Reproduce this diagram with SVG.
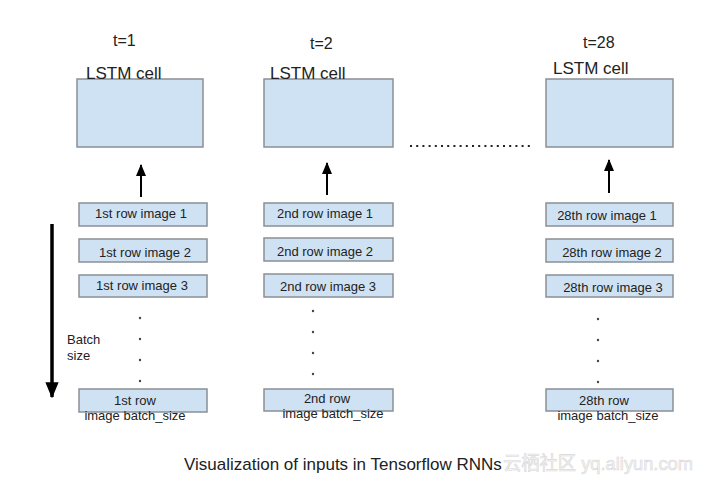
<svg xmlns="http://www.w3.org/2000/svg" width="708" height="483" viewBox="0 0 708 483">
<style>
text{font-family:"Liberation Sans",Arial,sans-serif;fill:#222}
.cell{fill:#cfe2f3;stroke:#8a8f94;stroke-width:1.5}
.in{fill:#cfe2f3;stroke:#8a8f94;stroke-width:1.5}
.t{font-size:16px}
.lbl{font-size:17px}
.bt{font-size:13px;text-anchor:middle}
.dot{fill:#444}
.conn{stroke:#000;stroke-width:2;fill:none}
</style>
<defs>
<marker id="ah" viewBox="0 0 12 10" refX="11" refY="5" markerWidth="6" markerHeight="5" orient="auto" markerUnits="strokeWidth">
<path d="M0,0 L12,5 L0,10 z" fill="#000"/>
</marker>
<marker id="ahb" viewBox="0 0 12 10" refX="11" refY="5" markerWidth="4.6" markerHeight="3.8" orient="auto" markerUnits="strokeWidth">
<path d="M0,0 L12,5 L0,10 z" fill="#000"/>
</marker>
</defs>
<rect width="708" height="483" fill="#fff"/>

<g id="cell1">
<text class="t" x="113" y="46">t=1</text>
<rect class="cell" x="77" y="79" width="126" height="68"/>
<text class="lbl" x="86" y="79">LSTM cell</text>
</g>
<g id="cell2">
<text class="t" x="310" y="49">t=2</text>
<rect class="cell" x="264" y="79" width="129" height="68"/>
<text class="lbl" x="270" y="79">LSTM cell</text>
</g>
<g id="cell28">
<text class="t" x="583" y="48">t=28</text>
<rect class="cell" x="546" y="79" width="127" height="68"/>
<text class="lbl" x="553" y="74">LSTM cell</text>
</g>

<g id="col1">
<rect class="in" x="79" y="203" width="128" height="23"/>
<text class="bt" x="141" y="218">1st row image 1</text>
<rect class="in" x="79" y="239" width="128" height="23"/>
<text class="bt" x="145" y="257">1st row image 2</text>
<rect class="in" x="79" y="275" width="128" height="22"/>
<text class="bt" x="142" y="290">1st row image 3</text>
<circle class="dot" cx="140" cy="318" r="1.2"/>
<circle class="dot" cx="140" cy="339" r="1.2"/>
<circle class="dot" cx="140" cy="360" r="1.2"/>
<circle class="dot" cx="140" cy="381" r="1.2"/>
<rect class="in" x="79" y="389" width="128" height="23"/>
<text class="bt" x="135" y="405">1st row</text>
<text class="bt" x="135" y="420">image batch_size</text>
</g>

<g id="col2">
<rect class="in" x="264" y="203" width="129" height="23"/>
<text class="bt" x="325" y="218">2nd row image 1</text>
<rect class="in" x="264" y="238" width="129" height="23"/>
<text class="bt" x="325" y="256">2nd row image 2</text>
<rect class="in" x="264" y="274" width="129" height="23"/>
<text class="bt" x="328" y="291">2nd row image 3</text>
<circle class="dot" cx="313" cy="311" r="1.2"/>
<circle class="dot" cx="313" cy="332" r="1.2"/>
<circle class="dot" cx="313" cy="353" r="1.2"/>
<circle class="dot" cx="313" cy="374" r="1.2"/>
<rect class="in" x="264" y="389" width="129" height="22"/>
<text class="bt" x="327" y="403">2nd row</text>
<text class="bt" x="333" y="418">image batch_size</text>
</g>

<g id="col28">
<rect class="in" x="546" y="203" width="127" height="23"/>
<text class="bt" x="607" y="220">28th row image 1</text>
<rect class="in" x="546" y="239" width="127" height="23"/>
<text class="bt" x="612" y="257">28th row image 2</text>
<rect class="in" x="546" y="275" width="127" height="22"/>
<text class="bt" x="613" y="292">28th row image 3</text>
<circle class="dot" cx="598" cy="319" r="1.2"/>
<circle class="dot" cx="598" cy="340" r="1.2"/>
<circle class="dot" cx="598" cy="361" r="1.2"/>
<circle class="dot" cx="598" cy="382" r="1.2"/>
<rect class="in" x="546" y="389" width="127" height="22"/>
<text class="bt" x="604" y="405">28th row</text>
<text class="bt" x="608" y="420">image batch_size</text>
</g>

<g id="batch">
<text x="67" y="344" style="font-size:13px">Batch</text>
<text x="67" y="360" style="font-size:13px">size</text>
</g>

<g id="connectors">
<line class="conn" x1="141" y1="197" x2="141" y2="165" marker-end="url(#ah)"/>
<line class="conn" x1="327" y1="195" x2="327" y2="163" marker-end="url(#ah)"/>
<line class="conn" x1="609" y1="193" x2="609" y2="160" marker-end="url(#ah)"/>
<line x1="52" y1="224" x2="52" y2="397" stroke="#000" stroke-width="3.5" marker-end="url(#ahb)"/>
<line x1="410" y1="146" x2="533" y2="146" stroke="#222" stroke-width="2" stroke-dasharray="2 4.2"/>
</g>

<text x="184" y="470" style="font-size:17px">Visualization of inputs in Tensorflow RNNs</text>
<text x="503" y="470" textLength="190" lengthAdjust="spacingAndGlyphs" style="font-size:19px;font-family:'Liberation Sans','Noto Sans CJK SC',sans-serif;fill:#f4f4f4;stroke:#d8d8d8;stroke-width:0.6">云栖社区 yq.aliyun.com</text>
</svg>
